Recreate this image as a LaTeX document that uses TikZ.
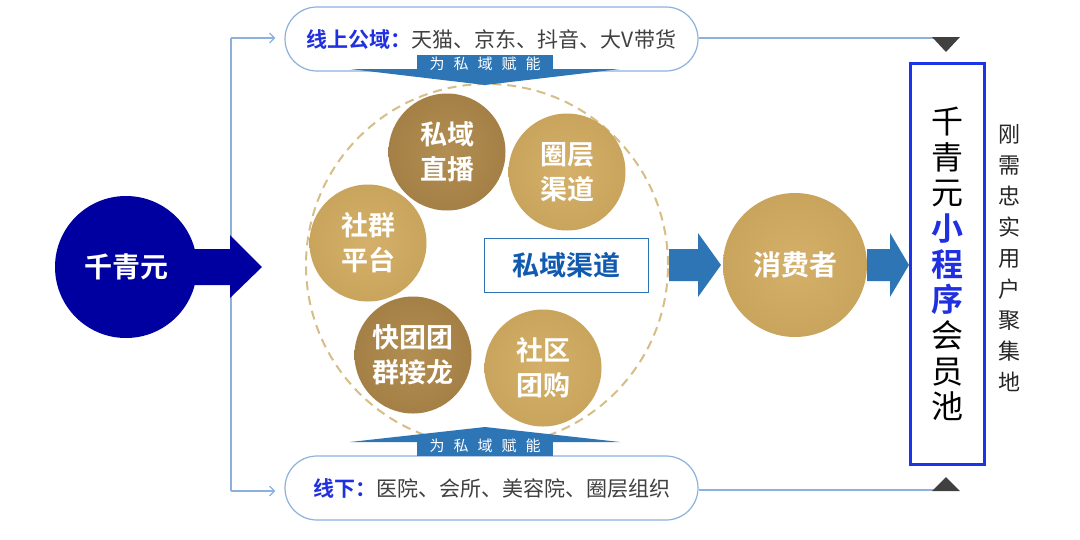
\documentclass[tikz,border=0pt]{standalone}
\usepackage{fontspec}
\setmainfont{Noto Sans CJK SC}[BoldFont={Noto Sans CJK SC Bold}]
\usetikzlibrary{arrows.meta,calc}
\definecolor{navy}{RGB}{0,0,160}
\definecolor{ofblue}{RGB}{46,117,182}
\definecolor{pillline}{RGB}{140,178,220}
\definecolor{txtblue}{RGB}{32,48,224}
\definecolor{gtxt}{RGB}{64,64,64}
\definecolor{goldL}{RGB}{201,164,92}
\definecolor{goldLi}{RGB}{212,176,106}
\definecolor{goldD}{RGB}{164,128,70}
\definecolor{goldDi}{RGB}{178,142,82}
\definecolor{dashgold}{RGB}{214,190,134}
\definecolor{boxblue}{RGB}{30,50,230}
\definecolor{qdblue}{RGB}{16,90,175}
\definecolor{trigray}{RGB}{64,64,64}
\tikzset{
  pill/.style={draw=pillline, line width=1.2pt, fill=white, rounded corners=32pt, minimum width=413pt, minimum height=64pt, inner sep=0pt, font=\fontsize{21}{24}\selectfont},
  goldc/.style={circle, minimum size=117pt, inner sep=0pt, text=white, align=center, font=\fontsize{27}{35}\selectfont\bfseries},
  goldlight/.style={goldc, shading=radial, inner color=goldLi, outer color=goldL},
  golddark/.style={goldc, shading=radial, inner color=goldDi, outer color=goldD},
  bigc/.style={circle, minimum size=142pt, inner sep=0pt, text=white, font=\fontsize{28}{32}\selectfont\bfseries},
  thinline/.style={draw=pillline, line width=1.2pt},
  banner/.style={fill=ofblue},
  bannertxt/.style={text=white, font=\fontsize{15}{16}\selectfont},
}
\begin{document}
\begin{tikzpicture}[x=1pt,y=-1pt]
\useasboundingbox (0,0) rectangle (1080,539);
\fill[white] (0,0) rectangle (1080,539);

% left vertical connector line
\coordinate (vtop) at (231,38);
\coordinate (vbot) at (231,491);
\draw[thinline] (vtop) -- (vbot);

% pills
\node[pill] (online) at (491.5,39) {{\color{txtblue}\bfseries 线上公域：}{\color{gtxt}天猫、京东、抖音、大V带货}};
\node[pill] (offline) at (491.5,488) {{\color{txtblue}\bfseries 线下：}{\color{gtxt}医院、会所、美容院、圈层组织}};
\draw[thinline, -{Straight Barb[length=5pt,width=10pt]}, shorten >=9pt] (vtop) -- (online.west |- vtop);
\draw[thinline, -{Straight Barb[length=5pt,width=10pt]}, shorten >=9pt] (vbot) -- (offline.west |- vbot);

% lines to triangles
\coordinate (t1) at (946,38);
\coordinate (t2) at (946,490);
\draw[thinline] (online.east |- t1) -- (t1);
\draw[thinline] (offline.east |- t2) -- (t2);
\fill[trigray] (932,37) -- (960,37) -- (946,52) -- cycle;
\fill[trigray] (932,491) -- (960,491) -- (946,477) -- cycle;

% left big circle and arrow
\coordinate (qyc) at (126,267);
\fill[navy] ($(qyc)+(0,-18)$) -- (230,249) -- (230,235) -- (262,267) -- (230,298) -- (230,285) -- ($(qyc)+(0,18)$) -- cycle;
\node[bigc, fill=navy] (qy) at (qyc) {千青元};

% dashed circle
\node[circle, draw=dashgold, dash pattern=on 9pt off 6pt, line width=2pt, minimum size=362pt, inner sep=0pt] (dc) at (487,265) {};

% gold circles
\node[golddark] (zb) at (447,152) {私域\\直播};
\node[goldlight] (qc) at (567,172) {圈层\\渠道};
\node[goldlight] (sq) at (368,243) {社群\\平台};
\node[golddark] (ktt) at (413,355) {快团团\\群接龙};
\node[goldlight] (sg) at (543,368) {社区\\团购};

% private channel label
\node[draw=ofblue, line width=1pt, minimum width=164pt, minimum height=54pt, inner sep=0pt, text=qdblue, font=\fontsize{27}{30}\selectfont\bfseries] (sy) at (566,265) {私域渠道};

% banners
\fill[banner] (350,69) -- (620,69) -- (485,85) -- cycle;
\fill[banner] (417,55) rectangle (553,71);
\node[bannertxt] (b1) at (485,64) {为\hspace{0.6em}私\hspace{0.6em}域\hspace{0.6em}赋\hspace{0.6em}能};
\fill[banner] (350,442) -- (620,442) -- (485,427) -- cycle;
\fill[banner] (417,437) rectangle (553,456);
\node[bannertxt] (b2) at (485,446) {为\hspace{0.6em}私\hspace{0.6em}域\hspace{0.6em}赋\hspace{0.6em}能};

% consumer
\node[bigc, shading=radial, inner color=goldLi, outer color=goldL, minimum size=144pt] (xf) at (795,265) {消费者};

% blue arrows
\fill[ofblue] (dc.east |- 0,249) -- (698,249) -- (698,233) -- (721,265) -- (698,297) -- (698,281) -- (dc.east |- 0,281) -- cycle;
\fill[ofblue] (xf.east |- 0,249) -- (890,249) -- (890,233) -- (909,265) -- (890,297) -- (890,281) -- (xf.east |- 0,281) -- cycle;

% member pool box
\node[draw=boxblue, line width=2.5pt, minimum width=74pt, minimum height=401pt, inner sep=0pt] (pool) at (947.5,264) {};
\node[align=center, font=\fontsize{32}{35.7}\selectfont, inner sep=0pt] (pooltxt) at (pool.center) {千\\青\\元\\{\color{txtblue}\bfseries 小}\\{\color{txtblue}\bfseries 程}\\{\color{txtblue}\bfseries 序}\\会\\员\\池};

% right vertical text
\node[align=center, font=\fontsize{22}{31}\selectfont, text=black!85, inner sep=0pt] (rt) at (1009,258) {刚\\需\\忠\\实\\用\\户\\聚\\集\\地};
\end{tikzpicture}
\end{document}
